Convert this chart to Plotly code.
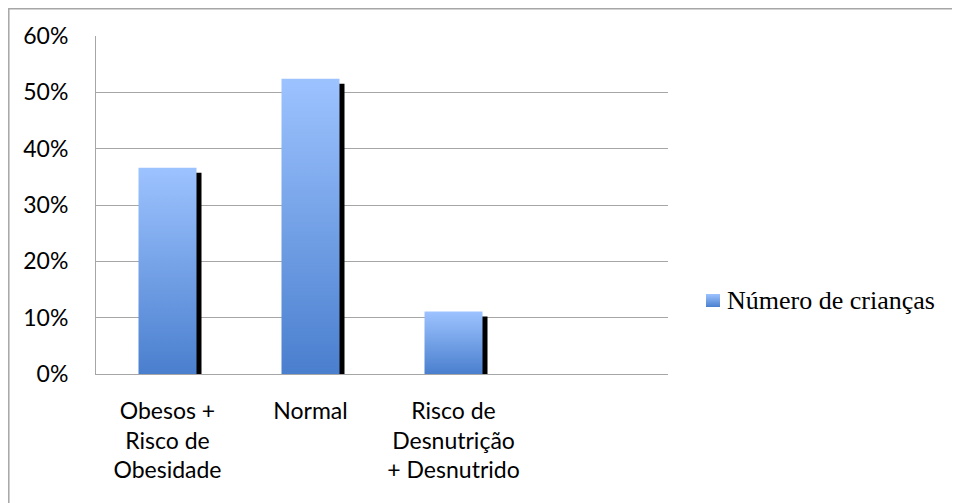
import plotly.graph_objects as go

categories = ["Obesos +<br>Risco de<br>Obesidade", "Normal", "Risco de<br>Desnutrição<br>+ Desnutrido"]
values = [0.366, 0.524, 0.111]
series_name = "Número de crianças"
y_ticks = [0, 0.1, 0.2, 0.3, 0.4, 0.5, 0.6]
y_ticklabels = ["0%", "10%", "20%", "30%", "40%", "50%", "60%"]

# page body has an 8px margin; figure sized to fit the window
OX, OY = 8, 8
W, H = 960 - OX, 503 - OY
PX_L, PX_R, PX_T, PX_B = 96 - OX, 668 - OX, 36 - OY, 374 - OY
n_slots = 4
slot_px = (PX_R - PX_L) / n_slots
bar_w = 58 / slot_px
sh_dx = 5 / slot_px
sh_dy = 5 * 0.6 / (PX_B - PX_T)

grad = [[0, "#4A7FCE"], [1, "#9DC3FF"]]

fig = go.Figure()
for i, v in enumerate(values):
    x0, x1 = i - bar_w / 2, i + bar_w / 2
    fig.add_trace(go.Scatter(
        x=[x0 + sh_dx, x1 + sh_dx, x1 + sh_dx, x0 + sh_dx, x0 + sh_dx],
        y=[0, 0, v - sh_dy, v - sh_dy, 0],
        mode="lines", fill="toself", fillcolor="black",
        line=dict(width=0, color="black"), showlegend=False, hoverinfo="skip"))
    fig.add_trace(go.Scatter(
        x=[x0, x1, x1, x0, x0], y=[0, 0, v, v, 0],
        mode="lines", fill="toself",
        fillgradient=dict(type="vertical", colorscale=grad),
        line=dict(width=0), showlegend=False, name=series_name,
        hovertemplate="%{y:.1%}<extra></extra>"))

# legend swatch
fig.add_trace(go.Scatter(
    x=[0, 1, 1, 0, 0], y=[0, 0, 1, 1, 0], xaxis="x2", yaxis="y2",
    mode="lines", fill="toself",
    fillgradient=dict(type="vertical", colorscale=grad),
    line=dict(width=0), showlegend=False, hoverinfo="skip"))

fig.update_layout(
    width=W, height=H,
    margin=dict(l=0, r=0, t=0, b=0),
    paper_bgcolor="white", plot_bgcolor="white",
    showlegend=False,
    xaxis=dict(
        domain=[PX_L / W, PX_R / W], range=[-0.5, n_slots - 0.5],
        tickvals=list(range(len(categories))), ticktext=categories,
        showgrid=False, zeroline=False, showline=True, linecolor="#A6A6A6",
        linewidth=1, layer="below traces", ticks="", ticklabelstandoff=16,
        tickfont=dict(family="Lato", size=23, color="black"), automargin=False),
    yaxis=dict(
        domain=[1 - PX_B / H, 1 - PX_T / H], range=[0, 0.6],
        tickvals=y_ticks, ticktext=y_ticklabels,
        showgrid=True, gridcolor="#A6A6A6", gridwidth=1,
        zeroline=False, showline=True, linecolor="#A6A6A6", linewidth=1,
        layer="below traces", ticks="", ticklabelstandoff=22,
        tickfont=dict(family="Lato", size=23, color="black"), automargin=False),
    xaxis2=dict(domain=[(706 - OX) / W, (720 - OX) / W], range=[0, 1], visible=False, fixedrange=True),
    yaxis2=dict(domain=[1 - (307 - OY) / H, 1 - (294 - OY) / H], range=[0, 1], visible=False, fixedrange=True),
    shapes=[dict(type="rect", xref="paper", yref="paper",
                 x0=0.8 / W, x1=1.02, y0=-0.02, y1=1 - 0.8 / H,
                 line=dict(color="#A6A6A6", width=1.5), fillcolor="rgba(0,0,0,0)",
                 layer="below")],
    annotations=[dict(text=series_name, xref="paper", yref="paper",
                      x=(725 - OX) / W, y=1 - (300 - OY) / H, xanchor="left", yanchor="middle",
                      showarrow=False,
                      font=dict(family="Liberation Serif", size=26, color="black"))],
)

fig.write_html("out.html")
